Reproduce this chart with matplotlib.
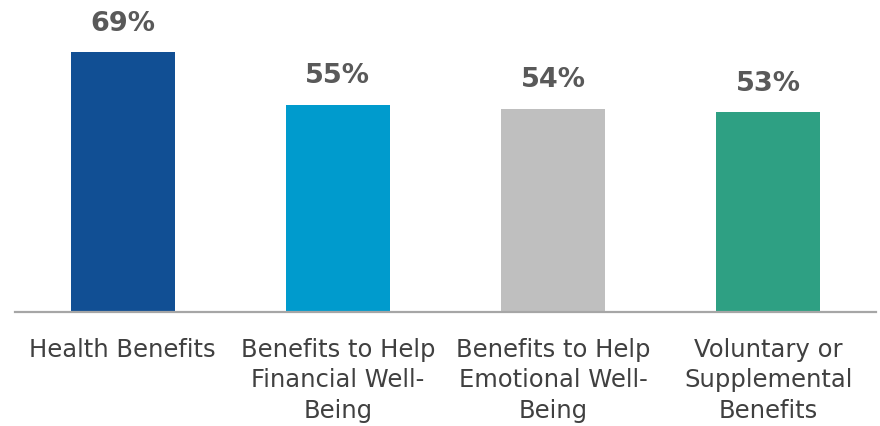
import matplotlib
matplotlib.use('Agg')
import matplotlib.pyplot as plt

categories = ['Health Benefits',
              'Benefits to Help\nFinancial Well-\nBeing',
              'Benefits to Help\nEmotional Well-\nBeing',
              'Voluntary or\nSupplemental\nBenefits']
values = [69, 55, 54, 53]
colors = ['#114F94', '#009BCD', '#BFBFBF', '#2EA083']

plt.rcParams['font.family'] = ['DejaVu Sans']

fig = plt.figure(figsize=(8.8, 4.26), dpi=100)
ax = fig.add_axes([15 / 880, 1 - 312 / 426, 861 / 880, 312 / 426])

x = range(len(values))
bars = ax.bar(x, values, width=0.484, color=colors)

# Value labels above each bar
for rect, v in zip(bars, values):
    ax.annotate(f'{v}%', (rect.get_x() + rect.get_width() / 2, v),
                xytext=(0, 11), textcoords='offset points',
                ha='center', va='bottom', fontsize=19.5, fontweight='bold',
                color='#595959')

ax.set_xlim(-0.5, 3.5)
ax.set_ylim(0, 82.8)
ax.set_xticks(list(x))
ax.set_xticklabels(categories, fontsize=17.5, color='#404040', linespacing=1.32)
ax.tick_params(axis='x', length=0, pad=19)
ax.set_yticks([])

for side in ['top', 'right', 'left']:
    ax.spines[side].set_visible(False)
ax.spines['bottom'].set_color('#A6A6A6')
ax.spines['bottom'].set_linewidth(1.6)

fig.savefig('out.png', dpi=100)
